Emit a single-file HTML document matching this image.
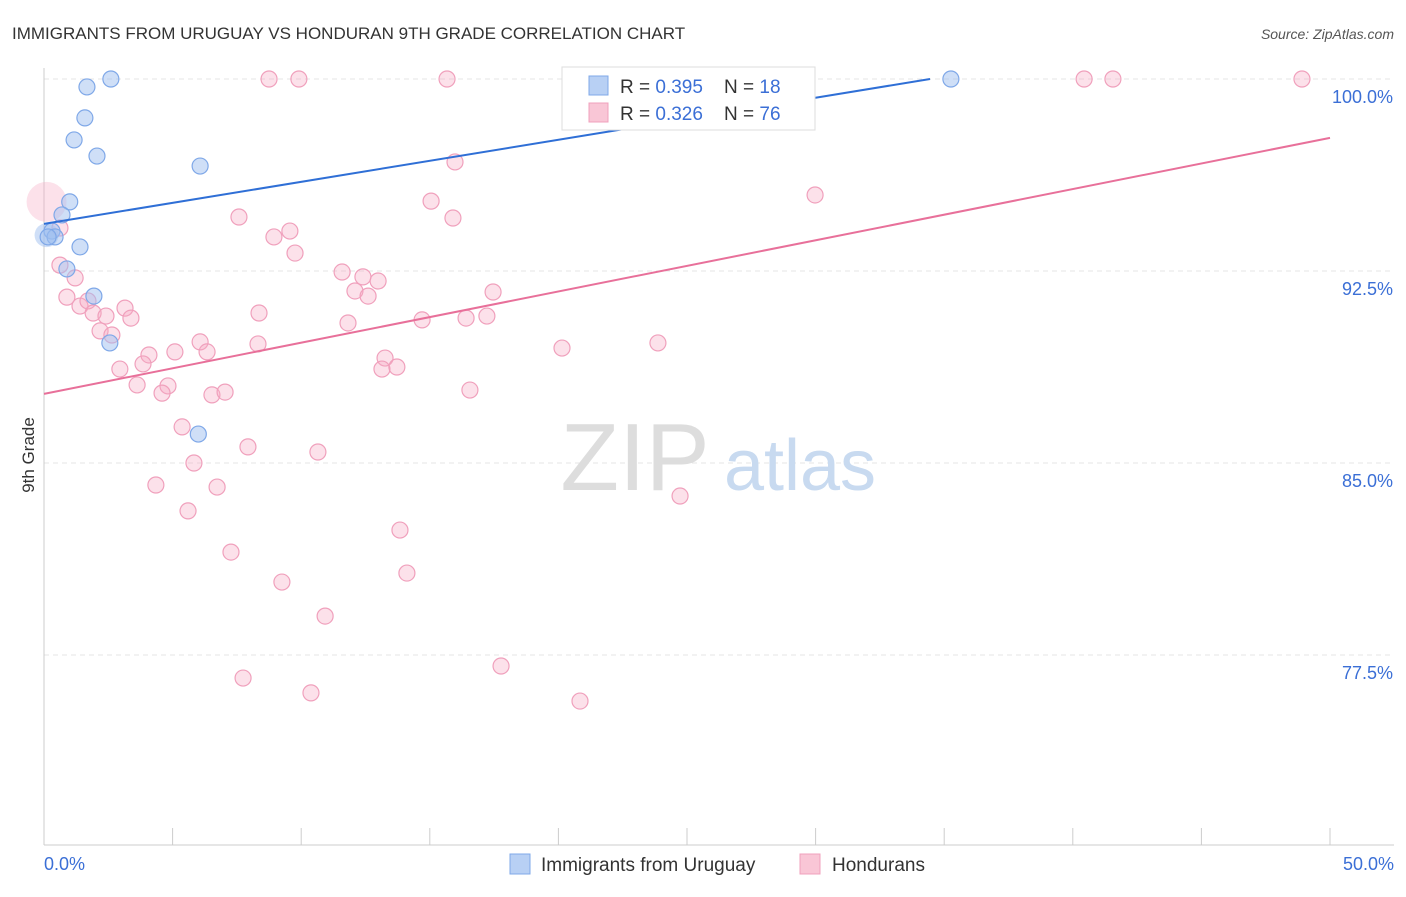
<!DOCTYPE html>
<html><head><meta charset="utf-8">
<style>
body{margin:0;background:#fff;font-family:"Liberation Sans",sans-serif;}
svg text{font-family:"Liberation Sans",sans-serif;}
</style></head>
<body>
<svg id="chart" width="1406" height="892" viewBox="0 0 1406 892">
<text x="12" y="39" font-size="17" fill="#333">IMMIGRANTS FROM URUGUAY VS HONDURAN 9TH GRADE CORRELATION CHART</text>
<text x="1394" y="39" font-size="14" fill="#555" text-anchor="end" font-style="italic">Source: ZipAtlas.com</text>
<g id="grid"></g>
<g>
<text x="635" y="490" font-size="96" fill="#ddd" text-anchor="middle" font-family="Liberation Serif">ZIP</text>
<text x="800" y="490" font-size="72" fill="#c8daf0" text-anchor="middle">atlas</text>
</g>
<g id="marks"></g>
<text transform="translate(34,455) rotate(-90)" font-size="17" fill="#333" text-anchor="middle">9th Grade</text>
<g>
<rect x="562" y="67" width="253" height="63" fill="#fff" stroke="#ddd"/>
<rect x="589" y="76" width="19" height="19" fill="#b8d0f4" stroke="#7fa8e8"/>
<text x="620" y="93" font-size="19" fill="#333" xml:space="preserve">R = <tspan fill="#3b6fd6">0.395</tspan>    N = <tspan fill="#3b6fd6">18</tspan></text>
<rect x="589" y="103" width="19" height="19" fill="#f9c6d6" stroke="#f0a0bc"/>
<text x="620" y="120" font-size="19" fill="#333" xml:space="preserve">R = <tspan fill="#3b6fd6">0.326</tspan>    N = <tspan fill="#3b6fd6">76</tspan></text>
</g>
<g>
<rect x="510" y="854" width="20" height="20" fill="#b8d0f4" stroke="#7fa8e8"/>
<text x="541" y="871" font-size="19" fill="#333">Immigrants from Uruguay</text>
<rect x="800" y="854" width="20" height="20" fill="#f9c6d6" stroke="#f0a0bc"/>
<text x="832" y="871" font-size="19" fill="#333">Hondurans</text>
</g>
</svg>
<script>
const xTickVals=[0,5,10,15,20,25,30,35,40,45,50];
const yTickVals=[100,92.5,85,77.5];
const yTickLabels=["100.0%","92.5%","85.0%","77.5%"];
const blueX=[2.6,1.67,1.59,1.17,2.06,6.07,1.0,0.7,0.31,0.43,0.16,1.4,0.89,1.94,2.56,6.0,35.26,23.56];
const blueY=[100,99.69,98.48,97.62,96.99,96.60,95.2,94.69,94.06,93.83,93.83,93.44,92.58,91.52,89.69,86.13,100,100];
const pinkX=[8.75,9.91,15.67,25.04,28.23,40.44,41.56,48.91,0.62,15.98,29.98,15.05,7.58,15.90,9.56,8.94,9.76,0.62,1.21,11.59,12.40,12.99,12.09,12.60,17.46,0.89,1.40,1.71,3.15,1.91,2.41,3.38,8.36,14.70,11.82,16.41,17.22,2.18,2.64,6.07,8.32,6.34,5.09,4.08,20.14,23.87,13.26,13.14,13.72,3.85,2.95,3.62,4.82,4.59,6.53,7.04,16.56,5.37,7.93,10.65,5.83,4.35,6.73,24.73,5.60,13.84,7.27,14.11,9.25,10.93,17.77,7.74,10.38,20.84];
const pinkY=[100,100,100,100,100,100,100,100,94.18,96.76,95.47,95.23,94.61,94.57,94.06,93.83,93.20,92.73,92.23,92.46,92.27,92.11,91.72,91.52,91.68,91.48,91.13,91.33,91.05,90.86,90.74,90.66,90.86,90.59,90.47,90.66,90.74,90.16,90.0,89.73,89.65,89.34,89.34,89.22,89.49,89.69,89.10,88.67,88.75,88.87,88.67,88.05,88.01,87.73,87.66,87.77,87.85,86.41,85.63,85.43,85.0,84.14,84.06,83.71,83.13,82.38,81.52,80.70,80.35,79.02,77.07,76.60,76.02,75.70];
const L=44,R=1330,T=79,B=845;
const xs=v=>L+(v/50)*(R-L);
const ys=v=>T+(100-v)*25.6;
const NS="http://www.w3.org/2000/svg";
function mk(tag,attrs,parent){const e=document.createElementNS(NS,tag);for(const k in attrs)e.setAttribute(k,attrs[k]);parent.appendChild(e);return e;}
const grid=document.getElementById('grid');
const marks=document.getElementById('marks');
yTickVals.forEach((v,i)=>{
  const l=mk('line',{x1:L,x2:1394,y1:ys(v),y2:ys(v),stroke:'#e4e4e4','stroke-dasharray':'5,4'},grid);
  
  
  const t=mk('text',{x:1393,y:ys(v)+24,'font-size':18,fill:'#3b6fd6','text-anchor':'end'},grid);
  t.textContent=yTickLabels[i];
  
  
});
const ax=mk('line',{x1:L,x2:L,y1:68,y2:B,stroke:'#ccc'},grid);


const bx=mk('line',{x1:L,x2:1394,y1:B,y2:B,stroke:'#ccc'},grid);


xTickVals.forEach(v=>{
  const t=mk('line',{x1:xs(v),x2:xs(v),y1:828,y2:B,stroke:'#ccc'},grid);
  
  
});
const xl0=mk('text',{x:44,y:870,'font-size':18,fill:'#3b6fd6'},grid);xl0.textContent='0.0%';


const xl1=mk('text',{x:1394,y:870,'font-size':18,fill:'#3b6fd6','text-anchor':'end'},grid);xl1.textContent='50.0%';


const big=mk('circle',{cx:xs(0.1),cy:ys(95.2),r:20,fill:'rgba(246,170,196,0.35)',stroke:'none'},marks);


pinkX.forEach((x,i)=>{
  const c=mk('circle',{cx:xs(x),cy:ys(pinkY[i]),r:8,fill:'rgba(246,170,196,0.35)',stroke:'#f0a0bc','stroke-width':1.2},marks);
  
  
});
const bigb=mk('circle',{cx:xs(0.1),cy:ys(93.9),r:12,fill:'rgba(160,192,240,0.5)',stroke:'none'},marks);


blueX.forEach((x,i)=>{
  const c=mk('circle',{cx:xs(x),cy:ys(blueY[i]),r:8,fill:'rgba(160,192,240,0.5)',stroke:'#7fa8e8','stroke-width':1.2},marks);
  
  
});
const bInt=94.34,bSlope=(100-94.34)/34.45;
const bEnd=(100-bInt)/bSlope;
const bl=mk('line',{x1:xs(0),y1:ys(bInt),x2:xs(bEnd),y2:ys(100),stroke:'#2f6fd6','stroke-width':2},marks);


const pInt=87.70,pEnd=97.70;
const pl=mk('line',{x1:xs(0),y1:ys(pInt),x2:xs(50),y2:ys(pEnd),stroke:'#e8709a','stroke-width':2},marks);


</script>
</body></html>
